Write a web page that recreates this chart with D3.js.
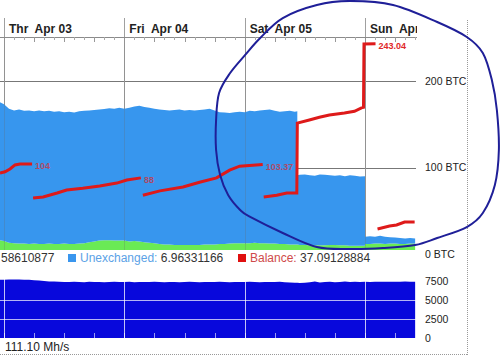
<!DOCTYPE html>
<html><head><meta charset="utf-8">
<script src="https://cdn.jsdelivr.net/npm/d3@7"></script>
<style>
html,body{margin:0;padding:0;background:#fff;}
svg{display:block;font-family:"Liberation Sans",Arial,sans-serif;}
</style></head><body>
<svg id="c" width="500" height="355"></svg>
<script>
// ---- data ----
const dayLabels = ["Thr  Apr 03", "Fri  Apr 04", "Sat  Apr 05", "Sun  Apr 06"];
const dayHours = [0, 24, 48, 72];
const btcTicks = [0, 100, 200];
const hashTicks = [0, 2500, 5000, 7500];

const hours = [-1,0,1,2,3,4,5,6,7,8,9,10,11,12,13,14,15,16,17,18,19,20,21,22,23,24,25,26,27,28,29,30,
  31,32,33,34,35,36,37,38,39,40,41,42,43,44,45,46,47,48,49,50,51,52,53,54,55,56,57,58,58.5,58.5,
  59,60,61,62,63,64,65,66,67,68,69,70,71,72,72,73,74,75,76,77,78,79,80,81,82];
const exchanged = [16,15,13,12.5,12,12,11.5,12,11.5,11.5,12,11.5,11.5,12,11.5,11.5,12,12.5,13.5,14.5,15.5,16,16,15.5,15.5,15.5,14.5,15,14.5,13.5,13,12.5,
  11.5,11,11,10.5,10.5,10.5,10.5,10.5,10.5,11,11,11,11.5,11.5,12,12.5,12.5,12.5,12.5,13,12.5,12.5,12,12,11.5,11.5,11,11,11,11,
  10.5,10.5,10,10,10,10,10.5,10.5,10,10,9.5,9.5,9.5,9.5,11.5,11.5,12,12,11.5,12,12,11.5,11.5,12,12];
const unexchanged = [160,158,155,153.5,155,153.5,154.5,153,154.5,153.5,153.5,153,153.5,152,153,152,153,153,152.5,152,151.5,151.5,152.5,152.5,153.5,152.5,154.5,155.5,157,156.5,156,155.5,
  155.5,155.5,155,156,156.5,155.5,156,155.5,156,156,157,155,152.5,152,151,151.5,152,151.5,153,152,153.5,154,155,153.5,153,153.5,154.5,153.5,154,80,
  81,81.5,81,80.5,82,81.5,80.5,80,81,80,81.5,81,80,80.5,8.5,9,8,9,8.5,7.5,7,7,6.5,6.5,6];
const hashrate = [7650,7680,7700,7690,7700,7680,7650,7600,7560,7500,7450,7420,7400,
  7380,7360,7400,7370,7350,7390,7360,7380,7340,7370,7400,7380,7360,7390,7350,7370,7380,7360,7390,
  7370,7350,7380,7360,7340,7370,7390,7360,7350,7380,7370,7360,7390,7370,7350,7360,7380,7370,7400,7360,7350,7380,7370,7360,7390,7340,7300,7280,7260,7260,
  7250,7280,7350,7420,7300,7380,7400,7350,7380,7420,7380,7400,7380,7390,7390,
  7380,7400,7410,7400,7390,7410,7400,7420,7410,7400];

const balanceHours = [-0.8,0.2,1.2,2.2,3.2,5.6,null,
  5.8,7.8,10.6,12.5,15.7,19.1,22.5,24.5,27.3,null,
  27.7,31.1,35.7,39.0,42.4,45.0,47.0,51.6,null,
  51.8,54.4,56.4,58.4,58.5,60.9,62.9,64.9,67.9,69.9,71.3,71.7,71.8,74.1,null,
  74.5,76.9,78.3,79.9,81.9];
const balance = [93.6,95,98.3,103,104,104,null,
  64.7,66,70.5,74,76,78.6,82,85.5,88,null,
  68,73,77.5,83,88,97,101.5,103.37,null,
  66,68,70.5,70.5,151.4,155,158,160.7,163,165,169,169.5,242.8,243.04,null,
  28.9,32.4,33.5,37,37];
const balanceLabelText = ["104", "88", "103.37", "243.04"];
const balanceLabelHours = [5.6, 27.3, 51.6, 74.1];
const balanceLabelValues = [104, 88, 103.37, 243.04];

// hand-drawn ring annotation, in (hours, BTC)
const ringHours = [69.0,77.6,86.4,92.3,95.5,97.3,98.3,98.7,97.9,95.5,92.3,86.4,82.0,75.6,69.0,62.4,55.6,49.1,47.1,44.7,43.1,42.3,42.3,42.9,45.1,48.1,51.1,55.6,62.4];
const ringBtc = [292.5,287.9,268.2,250.9,232.4,201.2,166.5,120.2,79.8,47.4,31.2,18.5,10.4,6.9,5.8,8.1,24.3,42.8,50.9,68.2,91.3,120.2,154.9,186.1,209.2,230.1,249.7,272.8,287.9];

const legendLead = "58610877";
const legendItems = [
  {name: "Unexchanged:", value: "6.96331166", color: "#3a96ee", text: "#5ba2e6"},
  {name: "Balance:", value: "37.09128884", color: "#e01010", text: "#cf4a4a"}
];
const hashLabel = "111.10 Mh/s";

// ---- scales ----
const x = d3.scaleLinear().domain([0, 72]).range([4, 365]);
const y = d3.scaleLinear().domain([0, 200]).range([254, 81]);
const yh = d3.scaleLinear().domain([0, 7500]).range([338, 281]);

const svg = d3.select("#c");
const defs = svg.append("defs");
defs.append("clipPath").attr("id", "clipMain").append("rect").attr("x", 0).attr("y", 38).attr("width", 416).attr("height", 212);
defs.append("clipPath").attr("id", "clipHead").append("rect").attr("x", 0).attr("y", 0).attr("width", 417).attr("height", 37);
defs.append("clipPath").attr("id", "clipLow").append("rect").attr("x", 0).attr("y", 270).attr("width", 416).attr("height", 68);

// dotted frame
svg.append("line").attr("x1", 0).attr("x2", 467).attr("y1", 354.5).attr("y2", 354.5)
  .attr("stroke", "#999").attr("stroke-dasharray", "1,1");
svg.append("line").attr("x1", 467.5).attr("x2", 467.5).attr("y1", 20).attr("y2", 355)
  .attr("stroke", "#999").attr("stroke-dasharray", "1,1");

// ---- main chart ----
const main = svg.append("g");
// horizontal grid
main.selectAll("line.hg").data(btcTicks.filter(d => d > 0)).join("line")
  .attr("x1", 0).attr("x2", 416).attr("y1", d => Math.round(y(d)) + 0.5).attr("y2", d => Math.round(y(d)) + 0.5)
  .attr("stroke", "#777");
// vertical day lines
main.selectAll("line.vg").data(dayHours).join("line")
  .attr("x1", d => Math.round(x(d)) + 0.5).attr("x2", d => Math.round(x(d)) + 0.5)
  .attr("y1", 18).attr("y2", 250).attr("stroke", "#a0a0a0");

const plot = main.append("g").attr("clip-path", "url(#clipMain)");
const series = hours.map((h, i) => ({h, ex: exchanged[i], un: unexchanged[i], hr: hashrate[i]}));
plot.append("path").datum(series)
  .attr("fill", "#6aea55")
  .attr("d", d3.area().x(d => x(d.h)).y0(y(0)).y1(d => y(d.ex)));
plot.append("path").datum(series)
  .attr("fill", "#3796ee")
  .attr("d", d3.area().x(d => x(d.h)).y0(d => y(d.ex)).y1(d => y(d.ex + d.un)));
// faint day lines over the areas
plot.selectAll("line.vo").data(dayHours).join("line")
  .attr("x1", d => Math.round(x(d)) + 0.5).attr("x2", d => Math.round(x(d)) + 0.5)
  .attr("y1", 38).attr("y2", 250).attr("stroke", "#666").attr("stroke-opacity", 0.25);

// balance line
const bal = balanceHours.map((h, i) => ({h, v: balance[i]}));
plot.append("path").datum(bal)
  .attr("fill", "none").attr("stroke", "#de1a1a").attr("stroke-width", 3)
  .attr("stroke-linejoin", "miter")
  .attr("d", d3.line().defined(d => d.h !== null).x(d => x(d.h)).y(d => y(d.v)));
plot.selectAll("text.bl").data(balanceLabelText).join("text")
  .attr("x", (d, i) => x(balanceLabelHours[i]) + 3)
  .attr("y", (d, i) => y(balanceLabelValues[i]) + 3)
  .attr("dominant-baseline", "middle")
  .attr("font-size", 9).attr("font-weight", "bold")
  .attr("fill", "#e02828").attr("fill-opacity", (d, i) => i === 3 ? 1 : 0.7)
  .text(d => d);

// top axis
const axisG = main.append("g").attr("transform", "translate(0,37)");
axisG.append("line").attr("x1", 0).attr("x2", 417).attr("y1", 0.5).attr("y2", 0.5).attr("stroke", "#8a8a8a");
const minor = d3.range(-0, 84, 2).filter(h => h % 6 !== 0);
const mid = d3.range(0, 84, 6).filter(h => h % 24 !== 0);
axisG.selectAll("line.mt").data(minor).join("line")
  .attr("x1", d => Math.round(x(d)) + 0.5).attr("x2", d => Math.round(x(d)) + 0.5)
  .attr("y1", 0).attr("y2", 3).attr("stroke", "#aaa");
axisG.selectAll("line.Mt").data(mid).join("line")
  .attr("x1", d => Math.round(x(d)) + 0.5).attr("x2", d => Math.round(x(d)) + 0.5)
  .attr("y1", 0).attr("y2", 5).attr("stroke", "#999");
main.append("g").attr("clip-path", "url(#clipHead)")
  .selectAll("text").data(dayLabels).join("text")
  .attr("x", (d, i) => x(dayHours[i]) + 5).attr("y", 33)
  .attr("font-size", 12).attr("font-weight", "bold").attr("fill", "#222")
  .attr("xml:space", "preserve").style("white-space", "pre")
  .text(d => d);

// right axis
const rAxis = svg.append("g").attr("transform", "translate(422,0)")
  .call(d3.axisRight(y).tickValues(btcTicks).tickSize(0).tickPadding(3).tickFormat(d => d + " BTC"));
rAxis.select(".domain").remove();
rAxis.selectAll("text").attr("font-size", 10.5).attr("font-family", "Liberation Sans, Arial, sans-serif").attr("fill", "#222");

// annotation ring
svg.append("path").datum(ringHours.map((h, i) => [h, ringBtc[i]]))
  .attr("fill", "none").attr("stroke", "#1f1f98").attr("stroke-width", 2)
  .attr("d", d3.line().x(d => x(d[0])).y(d => y(d[1])).curve(d3.curveCardinalClosed.tension(0)));

// legend
const lg = svg.append("g").attr("font-size", 12);
lg.append("text").attr("x", 1).attr("y", 262).attr("fill", "#333").text(legendLead);
const legendX = [68, 238];
legendItems.forEach((it, i) => {
  lg.append("rect").attr("x", legendX[i]).attr("y", 254).attr("width", 8).attr("height", 8).attr("fill", it.color);
  const t = lg.append("text").attr("x", legendX[i] + 12).attr("y", 262);
  t.append("tspan").attr("fill", it.text).text(it.name);
  t.append("tspan").attr("fill", "#333").text(" " + it.value);
});

// ---- lower chart ----
const low = svg.append("g");
const lowPlot = low.append("g").attr("clip-path", "url(#clipLow)");
lowPlot.append("path").datum(series)
  .attr("fill", "#0808dc")
  .attr("d", d3.area().x(d => x(d.h)).y0(yh(0)).y1(d => yh(d.hr)));
lowPlot.selectAll("line.lh").data([2500, 5000]).join("line")
  .attr("x1", 0).attr("x2", 416).attr("y1", d => Math.round(yh(d)) + 0.5).attr("y2", d => Math.round(yh(d)) + 0.5)
  .attr("stroke", "#fff").attr("stroke-opacity", 0.7);
lowPlot.selectAll("line.lv").data(dayHours).join("line")
  .attr("x1", d => Math.round(x(d)) + 0.5).attr("x2", d => Math.round(x(d)) + 0.5)
  .attr("y1", 278).attr("y2", 338).attr("stroke", "#fff").attr("stroke-opacity", 0.75);
lowPlot.selectAll("line.lt").data(d3.range(0, 84, 6)).join("line")
  .attr("x1", d => Math.round(x(d)) + 0.5).attr("x2", d => Math.round(x(d)) + 0.5)
  .attr("y1", 333).attr("y2", 338).attr("stroke", "#fff").attr("stroke-opacity", 0.6);
const hAxis = svg.append("g").attr("transform", "translate(422,0)")
  .call(d3.axisRight(yh).tickValues(hashTicks).tickSize(0).tickPadding(3).tickFormat(d => String(d)));
hAxis.select(".domain").remove();
hAxis.selectAll("text").attr("font-size", 10.5).attr("font-family", "Liberation Sans, Arial, sans-serif").attr("fill", "#222");
svg.append("text").attr("x", 5).attr("y", 351).attr("font-size", 12).attr("fill", "#222").text(hashLabel);
</script>
</body></html>
